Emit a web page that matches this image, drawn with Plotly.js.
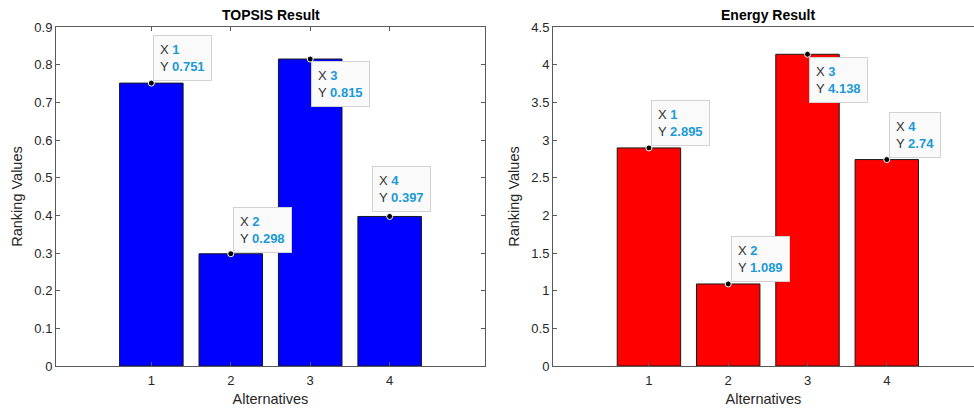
<!DOCTYPE html>
<html>
<head>
<meta charset="utf-8">
<script src="https://cdn.plot.ly/plotly-3.0.1.min.js"></script>
<style>html,body{margin:0;padding:0;background:#fff;}#chart{width:974px;height:412px;}</style>
</head>
<body>
<div id="chart"></div>
<script>
// ---- data ----
const alternatives = [1, 2, 3, 4];
const topsisValues = [0.751, 0.298, 0.815, 0.397];
const energyValues = [2.895, 1.089, 4.138, 2.74];
const topsisTitle = 'TOPSIS Result';
const energyTitle = 'Energy Result';
const xTitle = 'Alternatives';
const yTitle = 'Ranking Values';

// ---- styles / datatip placement (pixel offsets) ----
const FONT = 'Liberation Sans, Arial, Helvetica, sans-serif';
const tipColor = '#1a9ad6';
const topsisTipPlace = [
  {xa:'left', ya:'bottom', dx:2, dy:2},
  {xa:'left', ya:'bottom', dx:2, dy:1},
  {xa:'left', ya:'top', dx:1, dy:-2},
  {xa:'left', ya:'bottom', dx:-18, dy:4}
];
const energyTipPlace = [
  {xa:'left', ya:'bottom', dx:2, dy:2},
  {xa:'left', ya:'bottom', dx:3, dy:2},
  {xa:'left', ya:'top', dx:1, dy:-3},
  {xa:'left', ya:'bottom', dx:2, dy:2}
];

function fmt(v){ return String(v); }

const traces = [
  {type:'bar', x:alternatives, y:topsisValues, width:0.8, xaxis:'x', yaxis:'y',
   marker:{color:'#0000ff', line:{color:'#1a1a1a', width:1}}, hoverinfo:'none'},
  {type:'bar', x:alternatives, y:energyValues, width:0.8, xaxis:'x2', yaxis:'y2',
   marker:{color:'#ff0000', line:{color:'#1a1a1a', width:1}}, hoverinfo:'none'},
  {type:'scatter', mode:'markers', x:alternatives, y:topsisValues, xaxis:'x', yaxis:'y',
   marker:{color:'#000', size:6, line:{color:'#fff', width:1}}, hoverinfo:'none'},
  {type:'scatter', mode:'markers', x:alternatives, y:energyValues, xaxis:'x2', yaxis:'y2',
   marker:{color:'#000', size:6, line:{color:'#fff', width:1}}, hoverinfo:'none'}
];

function tips(xs, ys, place, xref, yref){
  return xs.map((x,i)=>({
    x:x, y:ys[i], xref:xref, yref:yref, showarrow:false,
    xanchor:place[i].xa, yanchor:place[i].ya, xshift:place[i].dx, yshift:place[i].dy,
    align:'left',
    text:'X <b><span style="color:'+tipColor+'">'+fmt(x)+'</span></b><br>Y <b><span style="color:'+tipColor+'">'+fmt(ys[i])+'</span></b>',
    font:{family:FONT, size:13, color:'#333'},
    bgcolor:'#fafafa', bordercolor:'#d2d2d2', borderwidth:1, borderpad:6
  }));
}

const axisCommon = {
  showgrid:false, zeroline:false, showline:true, linecolor:'#5a5a5a', linewidth:1,
  ticks:'inside', ticklen:4, tickcolor:'#5a5a5a',
  tickfont:{family:FONT, size:13, color:'#262626'}
};

const yDomain = [46/412, 385/412];
const titleFont = {family:FONT, size:14.5, color:'#262626'};

const layout = {
  width:974, height:412,
  margin:{l:0, r:0, t:0, b:0},
  paper_bgcolor:'#fff', plot_bgcolor:'#fff',
  showlegend:false,
  bargap:0,
  xaxis:Object.assign({}, axisCommon, {
    domain:[56/974, 485/974], range:[-0.2, 5.2], tickvals:alternatives, mirror:'ticks',
    ticklabelstandoff:2,
    title:{text:xTitle, font:titleFont, standoff:7}
  }),
  yaxis:Object.assign({}, axisCommon, {
    domain:yDomain, range:[0, 0.9], dtick:0.1, mirror:'ticks', tickformat:'.1~f',
    title:{text:yTitle, font:titleFont, standoff:8}
  }),
  xaxis2:Object.assign({}, axisCommon, {
    domain:[553/974, 1], range:[-0.21, 5.1], tickvals:alternatives, anchor:'y2', mirror:true,
    ticklabelstandoff:2,
    title:{text:xTitle, font:titleFont, standoff:7}
  }),
  yaxis2:Object.assign({}, axisCommon, {
    domain:yDomain, range:[0, 4.5], dtick:0.5, anchor:'x2',
    title:{text:yTitle, font:titleFont, standoff:8}
  }),
  annotations:[
    {text:'<b>'+topsisTitle+'</b>', xref:'paper', yref:'paper', x:271/974, y:(412-15)/412,
     xanchor:'center', yanchor:'middle', showarrow:false, font:{family:FONT, size:14, color:'#000'}},
    {text:'<b>'+energyTitle+'</b>', xref:'paper', yref:'paper', x:768/974, y:(412-15)/412,
     xanchor:'center', yanchor:'middle', showarrow:false, font:{family:FONT, size:14, color:'#000'}}
  ].concat(tips(alternatives, topsisValues, topsisTipPlace, 'x', 'y'))
   .concat(tips(alternatives, energyValues, energyTipPlace, 'x2', 'y2'))
};

Plotly.newPlot('chart', traces, layout, {staticPlot:true, displayModeBar:false});
</script>
</body>
</html>
